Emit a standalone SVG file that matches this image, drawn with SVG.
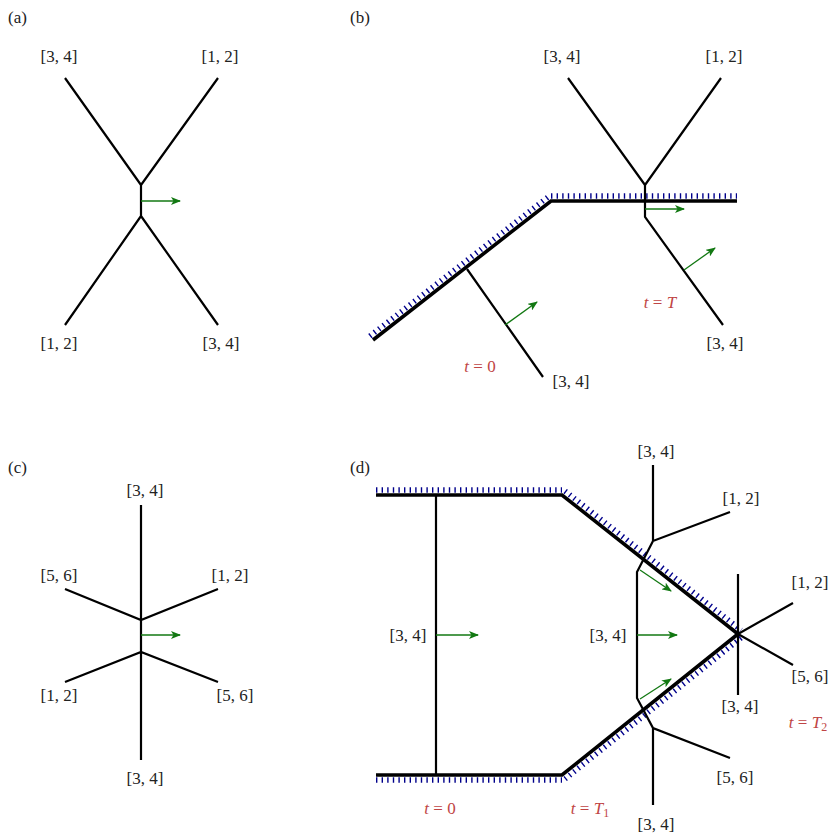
<svg xmlns="http://www.w3.org/2000/svg" width="836" height="837" viewBox="0 0 836 837" font-family="Liberation Serif, DejaVu Serif, Times New Roman, serif">
<style>
.ln{fill:none;stroke:#000;stroke-width:2.2}
.wall{fill:none;stroke:#000;stroke-width:3.6}
.hatch{fill:none;stroke:#00008b;stroke-width:5.5;stroke-dasharray:1.4 4.2}
.arr{fill:none;stroke:#127812;stroke-width:1.3;marker-end:url(#ah)}
text{font-size:17px;fill:#222}
.lb{text-anchor:middle}
.red{fill:#bf4545;text-anchor:middle}
.it{font-style:italic}
</style>
<defs>
<marker id="ah" viewBox="0 0 10 8" markerWidth="10" markerHeight="8" refX="9" refY="4" orient="auto" markerUnits="userSpaceOnUse">
<path d="M0,0 L10,4 L0,8 L2.5,4 z" fill="#127812"/>
</marker>
</defs>

<g id="panel-a">
<text x="8" y="23">(a)</text>
<g id="a-lines" class="ln">
<path d="M65,78 L141,185 L218,78 M141,185 L141,216 M65,325 L141,216 L218,325"/>
</g>
<line class="arr" x1="141" y1="201" x2="180" y2="201"/>
<text class="lb" x="59" y="62">[3, 4]</text>
<text class="lb" x="220" y="62">[1, 2]</text>
<text class="lb" x="59" y="349">[1, 2]</text>
<text class="lb" x="221" y="349">[3, 4]</text>
</g>

<g id="panel-b">
<text x="350" y="23">(b)</text>
<g id="b-wall">
<polyline class="wall" points="373,340 551,201 737,201"/>
<line class="hatch" x1="369.9" y1="336.1" x2="547.9" y2="197.1"/>
<line class="hatch" x1="551" y1="196" x2="737" y2="196"/>
</g>
<g id="b-lines" class="ln">
<path d="M568,78 L645,185 L721,78 M645,185 L645,217 L723,325 M467,269 L543,377"/>
</g>
<line class="arr" x1="645" y1="209" x2="684" y2="209"/>
<line class="arr" x1="684" y1="270" x2="715" y2="248"/>
<line class="arr" x1="505" y1="325" x2="537" y2="302"/>
<text class="lb" x="562" y="62">[3, 4]</text>
<text class="lb" x="724" y="62">[1, 2]</text>
<text class="lb" x="725" y="349">[3, 4]</text>
<text class="lb" x="571" y="387">[3, 4]</text>
<text class="red" x="660" y="308"><tspan class="it">t</tspan> = <tspan class="it">T</tspan></text>
<text class="red" x="480" y="372"><tspan class="it">t</tspan> = 0</text>
</g>

<g id="panel-c">
<text x="8" y="473">(c)</text>
<g id="c-lines" class="ln">
<path d="M141,505 L141,760 M65,589 L141,620 L218,589 M65,682 L141,652 L218,682"/>
</g>
<line class="arr" x1="141" y1="635" x2="180" y2="635"/>
<text class="lb" x="145" y="496">[3, 4]</text>
<text class="lb" x="59" y="581">[5, 6]</text>
<text class="lb" x="230" y="581">[1, 2]</text>
<text class="lb" x="59" y="701">[1, 2]</text>
<text class="lb" x="235" y="701">[5, 6]</text>
<text class="lb" x="145" y="784">[3, 4]</text>
</g>

<g id="panel-d">
<text x="350" y="473">(d)</text>
<g id="d-wall">
<polyline class="wall" points="376,495 562,495 738,634"/>
<polyline class="wall" points="376,775 562,775 738,634"/>
<line class="hatch" x1="376" y1="490" x2="562" y2="490"/>
<line class="hatch" x1="565.1" y1="491.1" x2="741.1" y2="630.1"/>
<line class="hatch" x1="376" y1="780" x2="562" y2="780"/>
<line class="hatch" x1="565.1" y1="778.9" x2="741.1" y2="637.9"/>
</g>
<g id="d-lines" class="ln">
<path d="M436,495 L436,775"/>
<path d="M653,465 L653,541 L730,512 M653,541 L637,572 L637,698 L653,728 L730,758 M653,728 L653,805"/>
<path d="M738,574 L738,695 M738,634 L793,603 M738,634 L793,665"/>
</g>
<line class="arr" x1="436" y1="635" x2="478" y2="635"/>
<line class="arr" x1="637" y1="635" x2="677" y2="635"/>
<line class="arr" x1="640" y1="570" x2="671" y2="591"/>
<line class="arr" x1="640" y1="699" x2="671" y2="679"/>
<text class="lb" x="656" y="457">[3, 4]</text>
<text class="lb" x="741" y="504">[1, 2]</text>
<text class="lb" x="810" y="588">[1, 2]</text>
<text class="lb" x="408" y="641">[3, 4]</text>
<text class="lb" x="608" y="641">[3, 4]</text>
<text class="lb" x="810" y="682">[5, 6]</text>
<text class="lb" x="740" y="712">[3, 4]</text>
<text class="lb" x="735" y="783">[5, 6]</text>
<text class="lb" x="656" y="830">[3, 4]</text>
<text class="red" x="440" y="814"><tspan class="it">t</tspan> = 0</text>
<text class="red" x="590" y="814"><tspan class="it">t</tspan> = <tspan class="it">T</tspan><tspan font-size="12" dy="3">1</tspan></text>
<text class="red" x="808" y="728"><tspan class="it">t</tspan> = <tspan class="it">T</tspan><tspan font-size="12" dy="3">2</tspan></text>
</g>
</svg>
